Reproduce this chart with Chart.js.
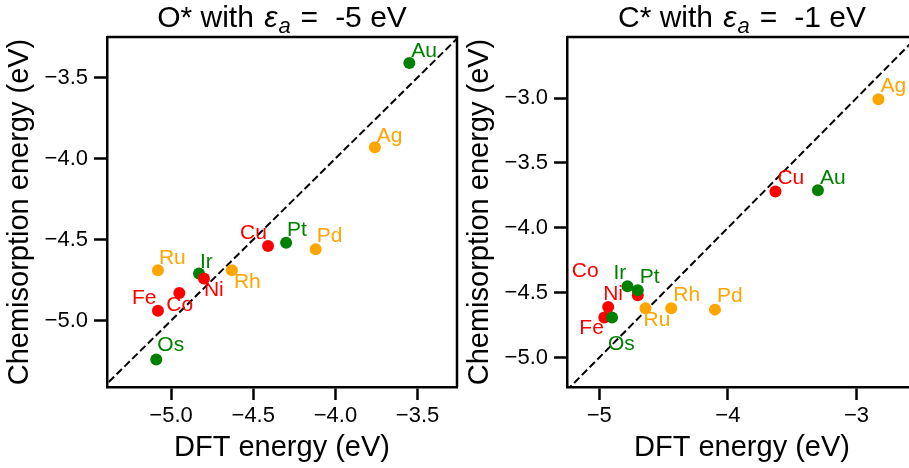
<!DOCTYPE html>
<html>
<head>
<meta charset="utf-8">
<script src="https://cdn.jsdelivr.net/npm/chart.js@4.4.1/dist/chart.umd.min.js"></script>
<style>
html,body{margin:0;padding:0;background:#fff;overflow:hidden}
#wrap{position:relative;width:909px;height:468px;overflow:hidden}
.pane{position:absolute;top:0;height:468px}
#pO{left:0;width:470px}
#pC{left:460px;width:520px}
</style>
</head>
<body>
<div id="wrap">
  <div class="pane" id="pO"><canvas id="cO" width="470" height="468"></canvas></div>
  <div class="pane" id="pC"><canvas id="cC" width="520" height="468"></canvas></div>
</div>
<script>
/* ─ data ─ */
// metals in plotting order, with their d-row
const metals = ['Ag','Au','Co','Cu','Fe','Ir','Ni','Os','Pd','Pt','Rh','Ru'];
const rows   = ['4d','5d','3d','3d','3d','5d','3d','5d','4d','5d','4d','4d'];

// O*, eps_a = -5 eV
const oDft  = [-3.76,-3.55,-4.95,-4.41,-5.08,-4.83,-4.80,-5.09,-4.12,-4.30,-4.63,-5.08];
const oChem = [-3.93,-3.41,-4.83,-4.54,-4.94,-4.71,-4.74,-5.24,-4.56,-4.52,-4.69,-4.69];

// C*, eps_a = -1 eV
const cDft  = [-2.83,-3.30,-4.70,-3.63,-4.96,-4.78,-4.93,-4.90,-4.10,-4.70,-4.44,-4.64];
const cChem = [-3.01,-3.71,-4.52,-3.72,-4.69,-4.45,-4.61,-4.69,-4.63,-4.48,-4.62,-4.62];

const oTicksX = [-5.0,-4.5,-4.0,-3.5];
const oTicksY = [-5.0,-4.5,-4.0,-3.5];
const cTicksX = [-5,-4,-3];
const cTicksY = [-5.0,-4.5,-4.0,-3.5,-3.0];

/* ─ styling ─ */
const FONT = "'Liberation Sans', Arial, sans-serif";
const rowColor = {'3d':'#ff0000','4d':'#ffa500','5d':'#008000'};

// where each element name sits next to its dot (px: left edge, baseline)
const oLabelPos = {Ag:[2,-5],Au:[2,-6],Co:[-13,18],Cu:[-28,-7],Fe:[-26,-7],Ir:[1,-6],
                   Ni:[0,18],Os:[1,-8],Pd:[1,-7],Pt:[1,-7],Rh:[2,18],Ru:[1,-6]};
const cLabelPos = {Ag:[2,-7],Au:[2,-6],Co:[-66,-18],Cu:[2,-7],Fe:[-25,17],Ir:[-14,-7],
                   Ni:[-5,-7],Os:[-4,33],Pd:[2,-8],Pt:[2,-7],Rh:[2,-7],Ru:[-2,18]};

const fmt = (v,dec) => (v<0?'\u2212':'') + Math.abs(v).toFixed(dec);

function axis(isX, lim, ticks, dec, label){
  return {
    type:'linear', position:isX?'bottom':'left',
    min:lim[0], max:lim[1],
    afterBuildTicks:s=>{ s.ticks = ticks.map(v=>({value:v})); },
    afterFit:s=>{ if(isX) s.height = 81; else s.width = 107; },
    border:{display:true,color:'#000',width:2.5},
    grid:{display:true,drawOnChartArea:false,drawTicks:true,tickLength:13,tickWidth:2.5,tickColor:'#000'},
    ticks:{color:'#000',font:{family:FONT,size:22},padding:isX?3:6,maxRotation:0,autoSkip:false,
           callback:v=>fmt(v,dec)},
    title:{display:true,text:label,color:'#000',font:{family:FONT,size:29},
           padding:isX?{top:0,bottom:3}:{top:3,bottom:0}}
  };
}

// top/right edges of the box, element names, title with eps_a
const decor = {
  id:'decor',
  afterDatasetsDraw(chart){
    const {ctx, chartArea:a} = chart;
    const o = chart.options.plugins.decor;
    ctx.save();
    ctx.strokeStyle = '#000'; ctx.lineWidth = 2.5;
    ctx.beginPath();
    ctx.moveTo(a.left, a.top); ctx.lineTo(a.right, a.top); ctx.lineTo(a.right, a.bottom);
    ctx.stroke();
    ctx.font = `21px ${FONT}`; ctx.textAlign = 'left'; ctx.textBaseline = 'alphabetic';
    chart.getDatasetMeta(1).data.forEach((el,i)=>{
      const m = metals[i], p = o.labels[m];
      ctx.fillStyle = rowColor[rows[i]];
      ctx.fillText(m, el.x+p[0], el.y+p[1]);
    });
    // title: "<ads> with ε_a = <val> eV"
    const fs = 30, base = 27;
    const parts = [
      {t:o.ads+' with ', f:`${fs}px ${FONT}`, dy:0, gap:2},
      {t:'\u03b5', f:`italic ${fs}px ${FONT}`, dy:0, gap:1},
      {t:'a', f:`italic ${Math.round(fs*0.72)}px ${FONT}`, dy:6, gap:10},
      {t:'=', f:`${fs}px ${FONT}`, dy:0, gap:17},
      {t:o.val+' eV', f:`${fs}px ${FONT}`, dy:0, gap:0}
    ];
    let w = 0;
    parts.forEach(p=>{ ctx.font = p.f; p.w = ctx.measureText(p.t).width; w += p.w + p.gap; });
    let x = (a.left+a.right)/2 - w/2;
    ctx.fillStyle = '#000';
    parts.forEach(p=>{ ctx.font = p.f; ctx.fillText(p.t, x, base+p.dy); x += p.w + p.gap; });
    ctx.restore();
  }
};

function makeChart(id, padRight, dft, chem, lim, tx, ty, dx, dy, labels, ads, val){
  return new Chart(document.getElementById(id), {
    type:'scatter',
    data:{datasets:[
      {type:'line', data:[{x:-7,y:-7},{x:-1,y:-1}], borderColor:'#000', borderWidth:2,
       borderDash:[7.5,3.5], pointRadius:0, fill:false, clip:0, order:2},
      {data:dft.map((v,i)=>({x:v,y:chem[i]})), pointRadius:6, pointHoverRadius:6,
       pointBackgroundColor:rows.map(r=>rowColor[r]), pointBorderWidth:0, order:1}
    ]},
    options:{
      responsive:false, animation:false, devicePixelRatio:1, events:[],
      layout:{padding:{top:37,right:padRight,left:0,bottom:0}},
      plugins:{legend:{display:false}, tooltip:{enabled:false},
               decor:{labels, ads, val}},
      scales:{
        x:axis(true, lim.x, tx, dx, 'DFT energy (eV)'),
        y:axis(false, lim.y, ty, dy, 'Chemisorption energy (eV)')
      }
    },
    plugins:[decor]
  });
}

makeChart('cO', 13, oDft, oChem, {x:[-5.39,-3.26], y:[-5.41,-3.25]}, oTicksX, oTicksY, 1, 1, oLabelPos, 'O*', '-5');
makeChart('cC', 63, cDft, cChem, {x:[-5.25,-2.53], y:[-5.226,-2.53]}, cTicksX, cTicksY, 0, 1, cLabelPos, 'C*', '-1');
</script>
</body>
</html>
